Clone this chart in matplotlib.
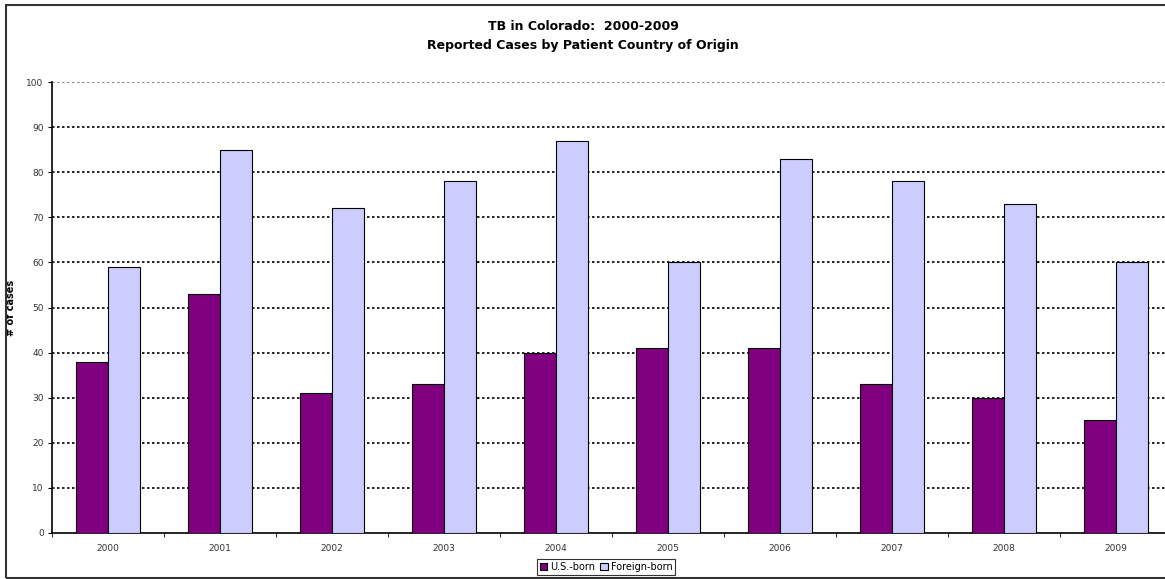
import numpy as np
import matplotlib.pyplot as plt
from matplotlib.patches import Rectangle

years = ['2000', '2001', '2002', '2003', '2004', '2005', '2006', '2007', '2008', '2009']
us_born = [38, 53, 31, 33, 40, 41, 41, 33, 30, 25]
foreign_born = [59, 85, 72, 78, 87, 60, 83, 78, 73, 60]

W, H = 1165, 579
fig = plt.figure(figsize=(W / 100, H / 100), dpi=100)

# outer chart border (runs off the right side)
fig.patches.append(Rectangle((6 / W, 1 / H), 1.2, (574 - 1) / H, transform=fig.transFigure,
                             fill=False, edgecolor='#333333', linewidth=1.5))

ax = fig.add_axes([52 / W, (H - 533) / H, 1120 / W, (533 - 82) / H])

x = np.arange(len(years))
bw = 0.2857
ax.bar(x - bw / 2, us_born, bw, color='#800080', edgecolor='black', linewidth=0.8,
       label='U.S.-born', zorder=3)
ax.bar(x + bw / 2, foreign_born, bw, color='#CCCCFF', edgecolor='black', linewidth=0.8,
       label='Foreign-born', zorder=3)

ax.set_xlim(-0.5, len(years) - 0.5)
ax.set_ylim(0, 100)
ax.set_yticks(range(0, 101, 10))
ax.set_xticks(x)
ax.set_xticklabels(years)
ax.set_xticks(np.arange(-0.5, len(years), 1), minor=True)
ax.tick_params(axis='x', which='major', length=0, labelsize=6.5, labelcolor='#333333', pad=8)
ax.tick_params(axis='x', which='minor', length=3, direction='out')
ax.tick_params(axis='y', length=3, direction='out', labelsize=6.5, labelcolor='#333333', pad=3)

for v in range(10, 100, 10):
    ax.axhline(v, color='black', linestyle=(0, (1.5, 1.5)), linewidth=1.2, zorder=1)
ax.axhline(100, color='#777777', linestyle=(0, (1.5, 1.5)), linewidth=1.2, zorder=1)

for s in ['top', 'right']:
    ax.spines[s].set_visible(False)
ax.spines['left'].set_linewidth(1.2)
ax.spines['bottom'].set_linewidth(1.2)

ax.set_ylabel('# of cases', fontsize=7, fontweight='bold')
ax.yaxis.set_label_coords(-36 / 1120, 0.5)

fig.text(583 / W, 1 - 30 / H, 'TB in Colorado:  2000-2009',
         ha='center', va='baseline', fontsize=9, fontweight='bold')
fig.text(583 / W, 1 - 49.5 / H, 'Reported Cases by Patient Country of Origin',
         ha='center', va='baseline', fontsize=9, fontweight='bold')

leg = ax.legend(loc='center', bbox_to_anchor=(606 / W, 1 - 567 / H), bbox_transform=fig.transFigure,
                ncol=2, fontsize=7, frameon=True, fancybox=False, edgecolor='black',
                handlelength=0.8, handleheight=0.8, handletextpad=0.3, columnspacing=0.5,
                borderpad=0.3, borderaxespad=0)
leg.get_frame().set_linewidth(0.8)

fig.savefig('out.png', dpi=100)
